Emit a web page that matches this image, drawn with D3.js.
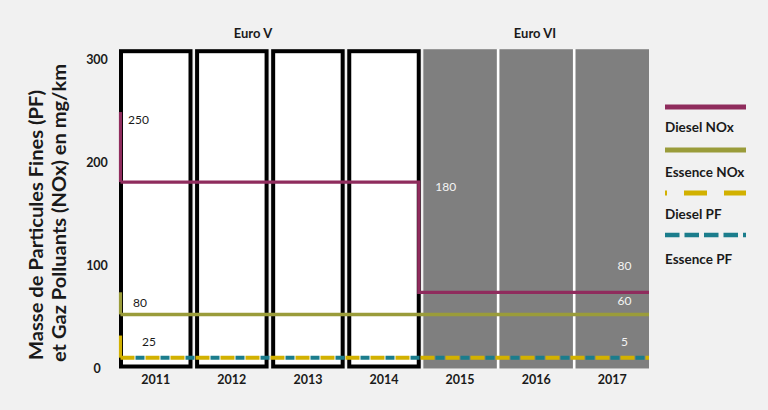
<!DOCTYPE html>
<html><head><meta charset="utf-8">
<script src="https://cdn.jsdelivr.net/npm/d3@7"></script>
<style>
html,body{margin:0;padding:0;background:#f1f1f1;}
svg{display:block;font-family:Lato,"Open Sans",sans-serif;}
</style></head>
<body>
<svg id="chart" width="768" height="410"></svg>
<script>
// ---- data ----
const years = ["2011","2012","2013","2014","2015","2016","2017"];
const euroVYears = ["2011","2012","2013","2014"];
const euroVIYears = ["2015","2016","2017"];
const normLabels = ["Euro V","Euro VI"];
const yTicks = [0,100,200,300];
const seriesNames = ["Diesel NOx","Essence NOx","Diesel PF","Essence PF"];
const dieselNOx = [181,181,181,181,74,74,74];
const essenceNOx = [52.5,52.5,52.5,52.5,52.5,52.5,52.5];
const dieselPF = [10.5,10.5,10.5,10.5,10.5,10.5,10.5];
const essencePF = [10.5,10.5,10.5,10.5,10.5,10.5,10.5];
const startValues = [249,74,32,null];   // initial tick of each series at 2011
const annoTexts = ["250","80","25","180","80","60","5"];
const annoYears = ["2011","2011","2011","2015","2017","2017","2017"];
const annoValues = [237,60,22,172,96,62,22];
const yTitle = ["Masse de Particules Fines (PF)","et Gaz Polluants (NOx) en mg/km"];

// ---- setup ----
const svg = d3.select("#chart");
const W = 768, H = 410;
svg.append("rect").attr("width",W).attr("height",H).attr("fill","#f1f1f1");

const x = d3.scaleBand().domain(years).range([119,649]).paddingInner(0.034).paddingOuter(0);
const y = d3.scaleLinear().domain([0,310]).range([368.5,49.2]);
const bw = x.bandwidth();

const colors = ["#8f2c5d","#9a9c3a","#d2b100","#1b7d8c"];

// Euro V boxes
svg.append("g").selectAll("rect").data(euroVYears).join("rect")
  .attr("x", d => x(d)+2).attr("y", y(310)+2)
  .attr("width", bw-4).attr("height", y(0)-y(310)-4)
  .attr("fill","#ffffff").attr("stroke","#000").attr("stroke-width",4);

// Euro VI grey columns
svg.append("rect")
  .attr("x", x(euroVIYears[0])).attr("y", y(310))
  .attr("width", x(euroVIYears[euroVIYears.length-1])+bw - x(euroVIYears[0]))
  .attr("height", y(0)-y(310)).attr("fill","#ffffff");
svg.append("g").selectAll("rect").data(euroVIYears).join("rect")
  .attr("x", d => x(d)).attr("y", y(310))
  .attr("width", bw).attr("height", y(0)-y(310))
  .attr("fill","#7f7f7f");

// norm labels
svg.append("g").selectAll("text").data(normLabels).join("text")
  .attr("x", (d,i) => i===0 ? 253 : 535)
  .attr("y", 38)
  .attr("text-anchor","middle")
  .attr("font-size",13).attr("font-weight","bold").attr("fill","#1a1a1a")
  .text(d => d);

// x labels
svg.append("g").selectAll("text").data(years).join("text")
  .attr("x", d => x(d)+bw/2).attr("y", 383.5)
  .attr("text-anchor","middle")
  .attr("font-size",12.5).attr("font-weight","bold").attr("fill","#1a1a1a")
  .text(d => d);

// y tick labels
svg.append("g").selectAll("text").data(yTicks).join("text")
  .attr("x", 97).attr("y", d => y(d)+4.5)
  .attr("text-anchor","middle")
  .attr("font-size",12.5).attr("font-weight","bold").attr("fill","#1a1a1a")
  .text(d => d);

// y title
const tCenters = [225,213], tBase = [43,65.5], tLen = [270,298];
yTitle.forEach((t,i) => {
  svg.append("text")
    .attr("transform", `translate(${tBase[i]},${tCenters[i]}) rotate(-90)`)
    .attr("text-anchor","middle")
    .attr("font-size",19).attr("font-weight","bold").attr("fill","#1a1a1a")
    .attr("textLength", tLen[i]).attr("lengthAdjust","spacingAndGlyphs")
    .text(t);
});

// step paths
function stepPoints(vals){
  const pts = [[x(years[0])+1.5, vals[0]]];
  for (let i=1;i<vals.length;i++){
    if (vals[i] !== vals[i-1]){
      const xb = x(years[i-1]) + bw - 2;
      pts.push([xb, vals[i-1]]); pts.push([xb, vals[i]]);
    }
  }
  pts.push([x(years[years.length-1])+bw, vals[vals.length-1]]);
  return pts;
}
const line = d3.line().x(d => d[0]).y(d => y(d[1]));
const allSeries = [dieselNOx, essenceNOx, dieselPF, essencePF];
const widths = [3.2,3.6,4,4];
const dashes = [null,null,"14,11","9,16"];
const offsets = [0,0,0,-15];

// start ticks
allSeries.forEach((vals,i) => {
  if (startValues[i] === null) return;
  svg.append("path")
    .attr("d", line([[x(years[0])+1.5, startValues[i]],[x(years[0])+1.5, vals[0]]]))
    .attr("fill","none").attr("stroke",colors[i]).attr("stroke-width",3.2);
});
[0,1,3,2].forEach(i => {
  svg.append("path")
    .attr("d", line(stepPoints(allSeries[i])))
    .attr("fill","none").attr("stroke",colors[i]).attr("stroke-width",widths[i])
    .attr("stroke-dasharray", dashes[i]).attr("stroke-dashoffset", offsets[i]);
});

// annotations
svg.append("g").selectAll("text").data(annoTexts).join("text")
  .attr("x", (d,i) => {
    const yr = annoYears[i];
    if (yr === "2017") return x(yr)+49;
    if (yr === "2015") return x(yr)+12;
    return x(yr) + [9,14,23][i];
  })
  .attr("y", (d,i) => y(annoValues[i]))
  .attr("text-anchor", (d,i) => annoYears[i]==="2017" ? "middle" : "start")
  .attr("font-size",12)
  .attr("fill", (d,i) => annoYears[i]==="2011" ? "#1a1a1a" : "#f4f4f4")
  .text(d => d);

// legend
const legY = [107,150,193,235];
const legTextY = [132,177,219,264];
const legDash = [null,null,"23,17","14.5,5"];
const legOff = [0,0,21,0];
const leg = svg.append("g");
seriesNames.forEach((n,i) => {
  leg.append("line").attr("x1",665).attr("x2",746).attr("y1",legY[i]).attr("y2",legY[i])
    .attr("stroke",colors[i]).attr("stroke-width",i===3?4.5:5)
    .attr("stroke-dasharray",legDash[i]).attr("stroke-dashoffset",legOff[i]);
  leg.append("text").attr("x",665).attr("y",legTextY[i])
    .attr("font-size",13.5).attr("font-weight","bold").attr("fill","#1a1a1a")
    .text(n);
});
</script>
</body></html>
